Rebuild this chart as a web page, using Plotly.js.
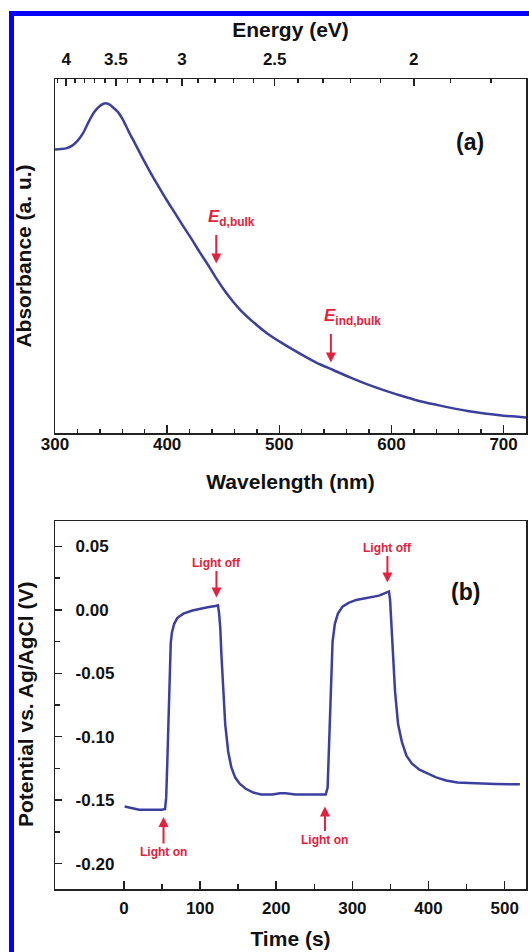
<!DOCTYPE html>
<html><head><meta charset="utf-8">
<script src="https://cdn.plot.ly/plotly-3.0.1.min.js"></script>
<style>
html,body{margin:0;padding:0;background:#fff;}
#wrap{position:relative;width:529px;height:952px;overflow:hidden;background:#fff}
#chart{position:absolute;left:0;top:0;width:529px;height:952px}
.bl{position:absolute;background:#0000ff;pointer-events:none}
</style></head><body>
<div id="wrap"><div id="chart"></div>
<div class="bl" style="left:9px;top:11px;width:520px;height:5px"></div>
<div class="bl" style="left:9px;top:11px;width:5px;height:941px"></div>
</div>
<script>
// ---- Panel (a): absorbance spectrum ----
const wavelength = [300,305,310,315,320,325,330,335,340,344,348,352,356,360,366,372,378,384,392,399,407,414,422,429,437,444,451,459,466,474,489,504,518,533,548,563,578,593,608,623,638,653,668,683,700,720];
const absorbance = [0.801,0.802,0.804,0.811,0.825,0.847,0.879,0.907,0.924,0.931,0.929,0.919,0.907,0.888,0.850,0.814,0.777,0.742,0.698,0.661,0.621,0.586,0.547,0.511,0.472,0.436,0.403,0.370,0.345,0.321,0.282,0.251,0.225,0.199,0.178,0.157,0.138,0.121,0.106,0.092,0.081,0.071,0.062,0.055,0.049,0.044];
const energyMajor = [4, 3.5, 3, 2.5, 2];
const energyMajorText = ['4','3.5','3','2.5','2'];
const energyMinor = [4.1,3.9,3.8,3.7,3.6,3.4,3.3,3.2,3.1,2.9,2.8,2.7,2.6,2.4,2.3,2.2,2.1,1.9,1.8];
const edBulkNm = 443.8, edBulkA = 0.479;
const eindBulkNm = 546, eindBulkA = 0.199;

// ---- Panel (b): photopotential transient ----
const time = [1,8,14,20,30,40,50,54,55.5,57,58.5,60,61.5,63,66,70,78,90,100,110,120,123.5,125,126.5,128,130,133,137,141,146,152,160,170,180,195,205,212,225,240,255,265,267.5,269,270.5,272,274,277,281,287,295,305,320,335,343,348,349.5,351,353,356,360,365,371,378,388,398,410,423,438,453,468,488,508,520];
const potential = [-0.1550,-0.1560,-0.1570,-0.1575,-0.1575,-0.1577,-0.1575,-0.1570,-0.1480,-0.1200,-0.0850,-0.0450,-0.0260,-0.0180,-0.0110,-0.0065,-0.0030,-0.0005,0.0010,0.0020,0.0030,0.0035,-0.0030,-0.0140,-0.0350,-0.0620,-0.0900,-0.1120,-0.1240,-0.1320,-0.1370,-0.1410,-0.1440,-0.1455,-0.1455,-0.1445,-0.1445,-0.1455,-0.1455,-0.1455,-0.1455,-0.1400,-0.1150,-0.0850,-0.0500,-0.0250,-0.0110,-0.0030,0.0025,0.0055,0.0078,0.0095,0.0112,0.0132,0.0145,0.0080,-0.0100,-0.0300,-0.0640,-0.0900,-0.1040,-0.1150,-0.1210,-0.1260,-0.1290,-0.1320,-0.1345,-0.1360,-0.1365,-0.1370,-0.1373,-0.1375,-0.1375];
const bTickVals = [-0.20,-0.15,-0.10,-0.05,0.00,0.05];
const bTickText = ['-0.20','-0.15','-0.10','-0.05','0.00','0.05'];
const lightOnT = [52, 264], lightOnV = [-0.1633, -0.1550];
const lightOffT = [121.5, 346], lightOffV = [0.0097, 0.0215];

const HC = 1239.84;
const RED = '#e5203d';
const BLUE = '#3b3f9f';
const AX = '#222';
const FONT = 'Liberation Sans, Arial, sans-serif';
const H = 952, W = 529, ML = 55, MR = 3;

const traces = [
  {x: wavelength, y: absorbance, xaxis:'x', yaxis:'y', mode:'lines', line:{color:BLUE, width:2.5, shape:'spline', smoothing:0.8}, hoverinfo:'skip'},
  // carrier for the top energy axis (same spectrum, fully transparent)
  {x: wavelength, y: absorbance, xaxis:'x3', yaxis:'y', mode:'lines', line:{color:BLUE, width:0}, opacity:0, hoverinfo:'skip'},
  {x: time, y: potential, xaxis:'x2', yaxis:'y2', mode:'lines', line:{color:BLUE, width:2.5}, hoverinfo:'skip'}
];

const tf = {family:FONT, size:17, color:'#111', weight:'bold'};
const ttl = {family:FONT, size:21, color:'#111', weight:'bold'};

const layout = {
  width:W, height:H,
  margin:{l:ML, r:MR, t:0, b:0},
  paper_bgcolor:'#fff', plot_bgcolor:'#fff',
  showlegend:false,
  font:{family:FONT, color:'#111'},
  xaxis:{
    domain:[0,1], anchor:'y', range:[300,720],
    tickmode:'linear', tick0:300, dtick:100,
    ticks:'inside', ticklen:8, tickwidth:1.5, tickcolor:AX,
    minor:{dtick:20, tick0:300, ticks:'inside', ticklen:4, tickwidth:1.5, tickcolor:AX},
    showline:true, linecolor:AX, linewidth:1.5, mirror:false,
    showgrid:false, zeroline:false, tickfont:tf, ticklabelstandoff:-5,
    title:{text:'Wavelength (nm)', font:ttl, standoff:21}
  },
  xaxis3:{
    overlaying:'x', anchor:'y', side:'top', range:[300,720],
    tickmode:'array', tickvals: energyMajor.map(e => HC/e), ticktext: energyMajorText,
    ticks:'inside', ticklen:7, tickwidth:1.5, tickcolor:AX,
    minor:{tickmode:'array', tickvals: energyMinor.map(e => HC/e), ticks:'inside', ticklen:4, tickwidth:1.5, tickcolor:AX},
    showline:true, linecolor:AX, linewidth:1.5,
    showgrid:false, zeroline:false, tickfont:tf, ticklabelstandoff:6,
    title:{text:'Energy (eV)', font:ttl, standoff:6}
  },
  yaxis:{
    domain:[1-433/H, 1-79/H], anchor:'x', range:[0,1],
    showticklabels:false, ticks:'', showgrid:false, zeroline:false,
    showline:true, linecolor:AX, linewidth:1.5, mirror:true,
    title:{text:'Absorbance (a. u.)', font:ttl, standoff:16}
  },
  xaxis2:{
    domain:[0,1], anchor:'y2', range:[-90.5,528],
    tickmode:'linear', tick0:0, dtick:100,
    ticks:'inside', ticklen:8, tickwidth:1.5, tickcolor:AX,
    minor:{dtick:50, tick0:0, ticks:'inside', ticklen:5, tickwidth:1.5, tickcolor:AX},
    showline:true, linecolor:AX, linewidth:1.5, mirror:true,
    showgrid:false, zeroline:false, tickfont:tf, ticklabelstandoff:3,
    title:{text:'Time (s)', font:ttl, standoff:14}
  },
  yaxis2:{
    domain:[1-889/H, 1-521/H], anchor:'x2', range:[-0.22,0.07],
    tickmode:'array', tickvals:bTickVals, ticktext:bTickText,
    ticks:'inside', ticklen:7, tickwidth:1.5, tickcolor:AX,
    ticklabelposition:'inside', ticklabelstandoff:14,
    minor:{dtick:0.025, tick0:0, ticks:'inside', ticklen:5, tickwidth:1.5, tickcolor:AX},
    showline:true, linecolor:AX, linewidth:1.5, mirror:true,
    showgrid:false, zeroline:false, tickfont:tf
  },
  annotations:[
    // y-axis title of panel (b), placed as paper annotation because its tick labels sit inside
    {xref:'paper', yref:'paper', x:(25-ML)/(W-ML-MR), y:1-705/H, xanchor:'center', yanchor:'middle', text:'Potential vs. Ag/AgCl (V)', textangle:-90, showarrow:false, font:ttl},
    {xref:'x', yref:'y', x:edBulkNm, y:edBulkA, ax:0, ay:-30, text:'', showarrow:true, arrowhead:2, arrowsize:1, arrowwidth:2, arrowcolor:RED},
    {xref:'x', yref:'y', x:edBulkNm+13.5, y:0.607, text:'<i>E</i><sub>d,bulk</sub>', showarrow:false, font:{family:FONT, size:17, color:RED, weight:'bold'}},
    {xref:'x', yref:'y', x:eindBulkNm, y:eindBulkA, ax:0, ay:-30, text:'', showarrow:true, arrowhead:2, arrowsize:1, arrowwidth:2, arrowcolor:RED},
    {xref:'x', yref:'y', x:eindBulkNm+19, y:0.327, text:'<i>E</i><sub>ind,bulk</sub>', showarrow:false, font:{family:FONT, size:17, color:RED, weight:'bold'}},
    {xref:'x', yref:'y', x:670.5, y:0.823, text:'(a)', showarrow:false, font:{family:FONT, size:23, color:'#111', weight:'bold'}},
    {xref:'x2', yref:'y2', x:lightOnT[0], y:lightOnV[0], ax:0, ay:35, text:'Light on', showarrow:true, arrowhead:2, arrowsize:1, arrowwidth:2, arrowcolor:RED, font:{family:FONT, size:12, color:RED, weight:'bold'}},
    {xref:'x2', yref:'y2', x:lightOnT[1], y:lightOnV[1], ax:0, ay:33, text:'Light on', showarrow:true, arrowhead:2, arrowsize:1, arrowwidth:2, arrowcolor:RED, font:{family:FONT, size:12, color:RED, weight:'bold'}},
    {xref:'x2', yref:'y2', x:lightOffT[0], y:lightOffV[0], ax:0, ay:-35, text:'Light off', showarrow:true, arrowhead:2, arrowsize:1, arrowwidth:2, arrowcolor:RED, font:{family:FONT, size:12, color:RED, weight:'bold'}},
    {xref:'x2', yref:'y2', x:lightOffT[1], y:lightOffV[1], ax:0, ay:-35, text:'Light off', showarrow:true, arrowhead:2, arrowsize:1, arrowwidth:2, arrowcolor:RED, font:{family:FONT, size:12, color:RED, weight:'bold'}},
    {xref:'x2', yref:'y2', x:448, y:0.0139, text:'(b)', showarrow:false, font:{family:FONT, size:23, color:'#111', weight:'bold'}}
  ]
};

Plotly.newPlot('chart', traces, layout, {staticPlot:true, displayModeBar:false});
</script>
</body></html>
